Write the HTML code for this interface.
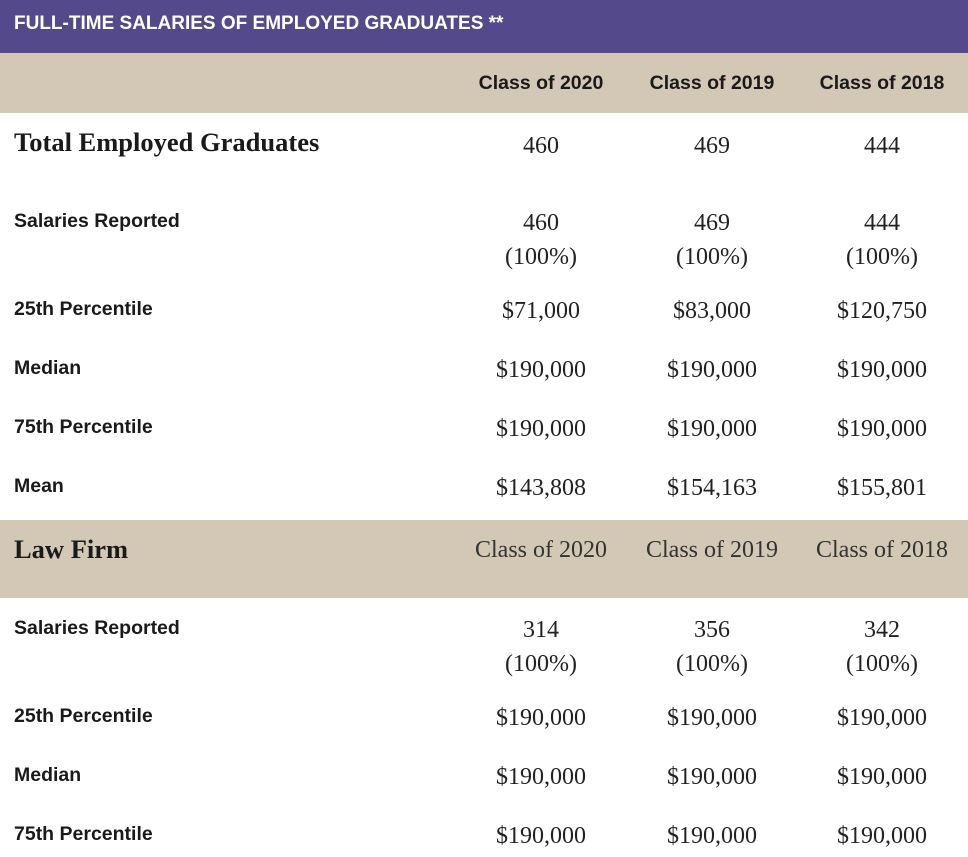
<!DOCTYPE html>
<html><head><meta charset="utf-8"><style>
body{margin:0;width:968px;height:857px;background:#fff;position:relative;overflow:hidden}
.a{position:absolute;white-space:nowrap}
.s{font-family:"Liberation Sans",sans-serif;font-weight:bold;color:#1a1a1a;font-size:19.5px}
.v{font-family:"Liberation Serif",serif;color:#222;font-size:24px;text-align:center;width:200px;line-height:34px}
.h{font-family:"Liberation Serif",serif;font-weight:bold;color:#1a1a1a;font-size:26.5px}
</style></head><body>
<div class="a" style="left:0;top:0;width:968px;height:53px;background:#544a8b"></div>
<div class="a s" style="left:14px;top:13px;color:#fff;font-size:19px">FULL-TIME SALARIES OF EMPLOYED GRADUATES **</div>
<div class="a" style="left:0;top:53px;width:968px;height:60px;background:#d3c8b5"></div>
<div class="a" style="left:0;top:520px;width:968px;height:78px;background:#d3c8b5"></div>
<div id="t"></div>
<script>
const cols=[541,712,882];
const hdr=["Class of 2020","Class of 2019","Class of 2018"];
const rows=[
["Salaries Reported",210,["460","469","444"],["(100%)","(100%)","(100%)"]],
["25th Percentile",298,["$71,000","$83,000","$120,750"]],
["Median",357,["$190,000","$190,000","$190,000"]],
["75th Percentile",416,["$190,000","$190,000","$190,000"]],
["Mean",475,["$143,808","$154,163","$155,801"]],
["Salaries Reported",617,["314","356","342"],["(100%)","(100%)","(100%)"]],
["25th Percentile",705,["$190,000","$190,000","$190,000"]],
["Median",764,["$190,000","$190,000","$190,000"]],
["75th Percentile",823,["$190,000","$190,000","$190,000"]]];
const totals=["460","469","444"];
let h='';
hdr.forEach((c,i)=>{h+=`<div class="a s" style="left:${cols[i]-100}px;width:200px;text-align:center;top:72px">${c}</div>`;
h+=`<div class="a v" style="left:${cols[i]-100}px;top:533px;color:#333">${c}</div>`;
h+=`<div class="a v" style="left:${cols[i]-100}px;top:129px">${totals[i]}</div>`;});
h+=`<div class="a h" style="left:14px;top:127px">Total Employed Graduates</div>`;
h+=`<div class="a h" style="left:14px;top:534px">Law Firm</div>`;
rows.forEach(r=>{h+=`<div class="a s" style="left:14px;top:${r[1]}px">${r[0]}</div>`;
r[2].forEach((v,i)=>{h+=`<div class="a v" style="left:${cols[i]-100}px;top:${r[1]-4}px">${v}${r[3]?'<br>'+r[3][i]:''}</div>`;});});
document.getElementById('t').innerHTML=h;
</script>
</body></html>
